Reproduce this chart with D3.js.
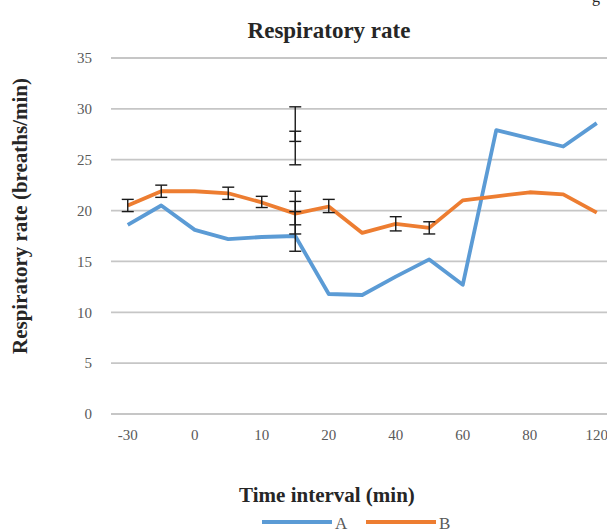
<!DOCTYPE html>
<html>
	<head>
		<meta charset="utf-8">
		<script type="text/javascript" src="https://d3js.org/d3.v7.min.js"></script>
		<style>
			body { margin: 0; background: #fff; }
			text { font-family: "Liberation Serif", "Times New Roman", serif; }
		</style>
	</head>
	<body>
		<div id="chart"></div>
		<script type="text/javascript">

			//////////////////////////////////////////////////////////////
			/////////////////////////// Data /////////////////////////////
			var categories = ["-30", "-15", "0", "5", "10", "15", "20", "30", "40", "50", "60", "70", "80", "100", "120"];
			var tickLabels = ["-30", "0", "10", "20", "40", "60", "80", "120"];
			var yTicks = [0, 5, 10, 15, 20, 25, 30, 35];

			var seriesA = [18.6, 20.5, 18.1, 17.2, 17.4, 17.5, 11.8, 11.7, 13.5, 15.2, 12.7, 27.9, 27.1, 26.3, 28.6];
			var seriesB = [20.5, 21.9, 21.9, 21.7, 20.8, 19.7, 20.4, 17.8, 18.7, 18.3, 21.0, 21.4, 21.8, 21.6, 19.8];

			//error bars: category, low, high
			var errCats = ["-30", "-15", "5", "10", "15", "15", "15", "15", "15", "20", "40", "50"];
			var errLow  = [19.9, 21.3, 21.1, 20.3, 17.7, 18.6, 16.0, 24.5, 26.8, 19.8, 18.0, 17.7];
			var errHigh = [21.1, 22.5, 22.3, 21.4, 21.9, 20.9, 19.9, 27.8, 30.2, 21.1, 19.4, 18.9];

			var seriesNames = ["A", "B"];
			var seriesColors = ["#5b9bd5", "#ed7d31"];

			//////////////////////////////////////////////////////////////
			///////////////////////// Set up svg /////////////////////////
			var width = 607,
				height = 532;

			var svg = d3.select("#chart")
				.append("svg")
				.attr("width", width)
				.attr("height", height);

			var x = d3.scaleBand()
				.domain(categories)
				.range([111, 111 + 15 * 33.5])
				.padding(0);

			var y = d3.scaleLinear()
				.domain([0, 35])
				.range([414, 58]);

			var xc = function(c) { return x(c) + x.bandwidth() / 2; };

			//////////////////////////////////////////////////////////////
			//////////////////////// Grid and axes ///////////////////////
			svg.append("g")
				.selectAll("line")
				.data(yTicks)
				.enter().append("line")
				.attr("x1", 111)
				.attr("x2", width)
				.attr("y1", function(d) { return y(d); })
				.attr("y2", function(d) { return y(d); })
				.style("stroke", "#c6c6c6")
				.style("stroke-width", "1.8px");

			var yAxis = svg.append("g")
				.attr("transform", "translate(92,0)")
				.call(d3.axisLeft(y).tickValues(yTicks).tickSize(0).tickPadding(0));
			yAxis.select(".domain").remove();
			yAxis.selectAll("text")
				.style("font-size", "15px")
				.style("fill", "#595959")
				.style("font-family", "Liberation Serif, serif");

			var xAxis = svg.append("g")
				.attr("transform", "translate(0,429)")
				.call(d3.axisBottom(x)
					.tickValues(tickLabels)
					.tickSize(0)
					.tickPadding(0));
			xAxis.select(".domain").remove();
			xAxis.selectAll("text")
				.attr("dy", "0.71em")
				.style("font-size", "15px")
				.style("fill", "#595959")
				.style("font-family", "Liberation Serif, serif");

			//////////////////////////////////////////////////////////////
			/////////////////////////// Lines ////////////////////////////
			var line = d3.line()
				.x(function(d, i) { return xc(categories[i]); })
				.y(function(d) { return y(d); });

			[seriesA, seriesB].forEach(function(s, i) {
				svg.append("path")
					.datum(s)
					.attr("d", line)
					.style("fill", "none")
					.style("stroke", seriesColors[i])
					.style("stroke-width", "3.8px")
					.style("stroke-linejoin", "round");
			});

			//////////////////////////////////////////////////////////////
			///////////////////////// Error bars /////////////////////////
			var errG = svg.append("g")
				.selectAll("g")
				.data(errCats)
				.enter().append("g");

			errG.append("line")
				.attr("x1", function(d) { return xc(d); })
				.attr("x2", function(d) { return xc(d); })
				.attr("y1", function(d, i) { return y(errLow[i]); })
				.attr("y2", function(d, i) { return y(errHigh[i]); });

			errG.append("line")
				.attr("x1", function(d) { return xc(d) - 6; })
				.attr("x2", function(d) { return xc(d) + 6; })
				.attr("y1", function(d, i) { return y(errLow[i]); })
				.attr("y2", function(d, i) { return y(errLow[i]); });

			errG.append("line")
				.attr("x1", function(d) { return xc(d) - 6; })
				.attr("x2", function(d) { return xc(d) + 6; })
				.attr("y1", function(d, i) { return y(errHigh[i]); })
				.attr("y2", function(d, i) { return y(errHigh[i]); });

			errG.selectAll("line")
				.style("stroke", "#1a1a1a")
				.style("stroke-width", "1.4px");

			//////////////////////////////////////////////////////////////
			/////////////////////////// Titles ///////////////////////////
			svg.append("text")
				.attr("x", 329)
				.attr("y", 38)
				.attr("text-anchor", "middle")
				.style("font-size", "23px")
				.style("font-weight", "bold")
				.style("fill", "#262626")
				.text("Respiratory rate");

			//cut off text at the top right corner of the page
			svg.append("text")
				.attr("x", 592)
				.attr("y", 2)
				.style("font-size", "16px")
				.style("fill", "#262626")
				.text("g");

			svg.append("text")
				.attr("transform", "translate(27,216) rotate(-90)")
				.attr("text-anchor", "middle")
				.style("font-size", "21px")
				.style("font-weight", "bold")
				.style("fill", "#262626")
				.text("Respiratory rate (breaths/min)");

			svg.append("text")
				.attr("x", 327)
				.attr("y", 502)
				.attr("text-anchor", "middle")
				.style("font-size", "21px")
				.style("font-weight", "bold")
				.style("fill", "#262626")
				.text("Time interval (min)");

			//////////////////////////////////////////////////////////////
			/////////////////////////// Legend ///////////////////////////
			var legendX = [262, 366];
			var legend = svg.append("g")
				.selectAll("g")
				.data(seriesNames)
				.enter().append("g")
				.attr("transform", function(d, i) { return "translate(" + legendX[i] + ",522)"; });

			legend.append("line")
				.attr("x1", 0)
				.attr("x2", 70)
				.style("stroke", function(d, i) { return seriesColors[i]; })
				.style("stroke-width", "3.8px");

			legend.append("text")
				.attr("x", 73)
				.attr("y", 7)
				.style("font-size", "17px")
				.style("fill", "#595959")
				.text(function(d) { return d; });
		</script>
	</body>
</html>
